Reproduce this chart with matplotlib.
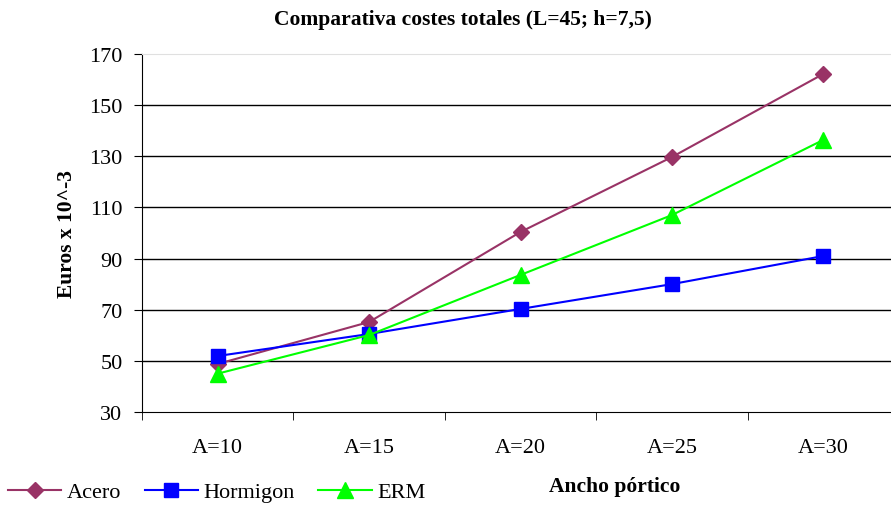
import matplotlib.pyplot as plt
import numpy as np

categories = ["A=10", "A=15", "A=20", "A=25", "A=30"]
acero = [48.8, 65.2, 100.4, 129.7, 162.2]
hormigon = [51.9, 60.5, 70.3, 80.0, 91.0]
erm = [45.0, 60.1, 83.6, 107.0, 136.4]

plt.rcParams['font.family'] = ['Liberation Serif', 'DejaVu Serif']

fig = plt.figure(figsize=(8.91, 5.06), dpi=100)
ax = fig.add_axes([142 / 891, 93 / 506, 757 / 891, 358 / 506])

x = np.arange(len(categories))
ax.plot(x, acero, color='#993366', marker='D', markersize=8.5, lw=1.5, label='Acero')
ax.plot(x, hormigon, color='#0000FF', marker='s', markersize=10, lw=1.5, label='Hormigon')
ax.plot(x, erm, color='#00FF00', marker='^', markersize=11, lw=1.5, label='ERM')

ax.set_xlim(-0.5, 4.5)
ax.set_ylim(30, 170)
ax.set_yticks(range(30, 171, 20))
ax.set_xticks(x)
ax.set_xticklabels(categories, fontsize=16)
ax.set_xticks(np.arange(-0.5, 4.6, 1), minor=True)
ax.tick_params(axis='x', which='major', length=0, pad=19)
ax.tick_params(axis='x', which='minor', length=6, direction='out')
ax.tick_params(axis='y', labelsize=16, length=6, pad=8)

# gridlines
for v in range(50, 151, 20):
    ax.axhline(v, color='black', lw=1, zorder=0)

ax.spines['right'].set_visible(False)
ax.spines['top'].set_color('#e0e0e0')

fig.text(463 / 891, 1 - 20 / 506, 'Comparativa costes totales (L=45; h=7,5)',
         fontsize=15.5, fontweight='bold', ha='center', va='center')
fig.text(67 / 891, 1 - 234 / 506, 'Euros x 10^-3', rotation=90,
         fontsize=15.5, fontweight='bold', ha='center', va='center')
fig.text(615 / 891, 1 - 487 / 506, 'Ancho pórtico',
         fontsize=15.5, fontweight='bold', ha='center', va='center')

fig.legend(loc='center left', bbox_to_anchor=(8 / 891, 1 - 493 / 506), ncol=3, frameon=False,
           fontsize=16, handlelength=2.4, columnspacing=1.05, handletextpad=0.25,
           borderaxespad=0, borderpad=0)

fig.savefig('out.png', dpi=100)
